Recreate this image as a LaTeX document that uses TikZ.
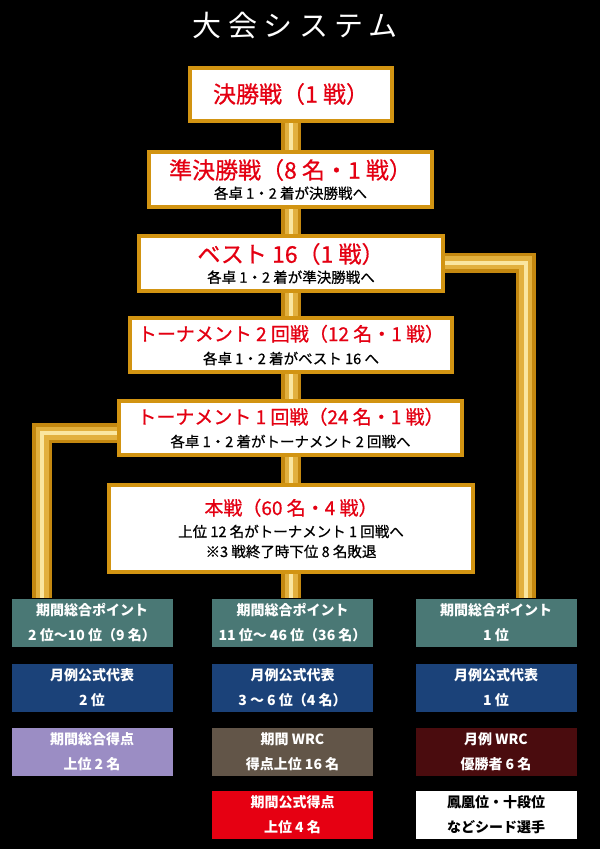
\documentclass[tikz,border=0pt]{standalone}
\usepackage{fontspec}
\setmainfont{Noto Sans CJK JP}
\usetikzlibrary{backgrounds}

\definecolor{goldedge}{RGB}{210,148,18}
\definecolor{golddark}{RGB}{196,136,16}
\definecolor{goldmid}{RGB}{226,176,62}
\definecolor{goldlight}{RGB}{250,230,160}
\definecolor{stagered}{RGB}{228,0,18}
\definecolor{cellteal}{RGB}{74,120,117}
\definecolor{cellblue}{RGB}{27,66,121}
\definecolor{cellpurple}{RGB}{155,141,196}
\definecolor{cellbrown}{RGB}{98,85,72}
\definecolor{cellmaroon}{RGB}{74,12,14}
\definecolor{cellred}{RGB}{230,0,18}

% big red heading, small red heading
\newcommand{\stagehead}[1]{{\color{stagered}\fontsize{23}{23}\selectfont #1}}
\newcommand{\stagesmall}[1]{{\color{stagered}\fontsize{19}{19}\selectfont #1}}

\tikzset{
  stage/.style={draw=goldedge, line width=4pt, fill=white, inner sep=0pt, align=center,
    font=\fontsize{14.5}{20}\selectfont\addfontfeatures{FakeBold=0.6}},
  goldbar/.style={line width=20pt, draw=golddark, line join=miter,
    postaction={draw=goldmid, line width=13pt},
    postaction={draw=goldlight, line width=4pt}},
  cell/.style={minimum width=161pt, minimum height=48pt, inner sep=0pt, align=center,
    text=white, font=\fontsize{14}{25}\selectfont\bfseries}
}

\begin{document}
\begin{tikzpicture}[x=1pt,y=-1pt]
	\begin{scope}[on background layer]
		\fill[black] (0,0) rectangle (600,849);
	\end{scope}
	\useasboundingbox (0,0) rectangle (600,849);
	
	\node[text=white, font=\fontsize{29}{29}\selectfont\addfontfeatures{LetterSpace=22}] (title) at (295.5,26) {大会システム};
	
	% stages
	\node[stage, minimum width=202pt, minimum height=53pt] (final) at (291,94) {\stagehead{決勝戦（1 戦）}};
	\node[stage, minimum width=283pt, minimum height=55pt] (semi) at (290.5,179.5) {\stagehead{準決勝戦（8 名・1 戦）}\\各卓 1・2 着が決勝戦へ};
	\node[stage, minimum width=304pt, minimum height=55pt] (best) at (291,263.5) {\stagehead{ベスト 16（1 戦）}\\各卓 1・2 着が準決勝戦へ};
	\node[stage, minimum width=322pt, minimum height=54pt] (round2) at (291,345) {\stagesmall{トーナメント 2 回戦（12 名・1 戦）}\\[3pt]各卓 1・2 着がベスト 16 へ};
	\node[stage, minimum width=343pt, minimum height=54pt] (round1) at (290.5,428) {\stagesmall{トーナメント 1 回戦（24 名・1 戦）}\\[3pt]各卓 1・2 着がトーナメント 2 回戦へ};
	\node[stage, minimum width=364pt, minimum height=87pt] (main) at (291,528.5) {\stagesmall{本戦（60 名・4 戦）}\\[2pt]上位 12 名がトーナメント 1 回戦へ\\※3 戦終了時下位 8 名敗退};
	
	% seeds
	\node[cell, fill=cellteal] (p1) at (92,622.5) {期間総合ポイント\\2 位〜10 位（9 名）};
	\node[cell, fill=cellteal] (p2) at (292.5,622.5) {期間総合ポイント\\11 位〜 46 位（36 名）};
	\node[cell, fill=cellteal] (p3) at (496,622.5) {期間総合ポイント\\1 位};
	
	\node[cell, fill=cellblue] (m1) at (92,687.5) {月例公式代表\\2 位};
	\node[cell, fill=cellblue] (m2) at (292.5,687.5) {月例公式代表\\3 〜 6 位（4 名）};
	\node[cell, fill=cellblue] (m3) at (496,687.5) {月例公式代表\\1 位};
	
	\node[cell, fill=cellpurple] (s1) at (92,752) {期間総合得点\\上位 2 名};
	\node[cell, fill=cellbrown] (s2) at (292.5,752) {期間 WRC\\得点上位 16 名};
	\node[cell, fill=cellmaroon] (s3) at (496,752) {月例 WRC\\優勝者 6 名};
	
	\node[cell, fill=cellred] (o2) at (292.5,815) {期間公式得点\\上位 4 名};
	\node[cell, fill=white, text=black] (o3) at (496,815) {鳳凰位・十段位\\などシード選手};
	
	\coordinate (rturn) at (525.5,262.5);
	\coordinate (lturn) at (42,433);
	
	\begin{scope}[on background layer]
		\draw[goldbar] (final) -- (final |- p2.north);
		\draw[goldbar] (rturn -| best) -- (rturn) -- (rturn |- p3.north);
		\draw[goldbar] (lturn -| round1) -- (lturn) -- (lturn |- p1.north);
	\end{scope}
\end{tikzpicture}
\end{document}
